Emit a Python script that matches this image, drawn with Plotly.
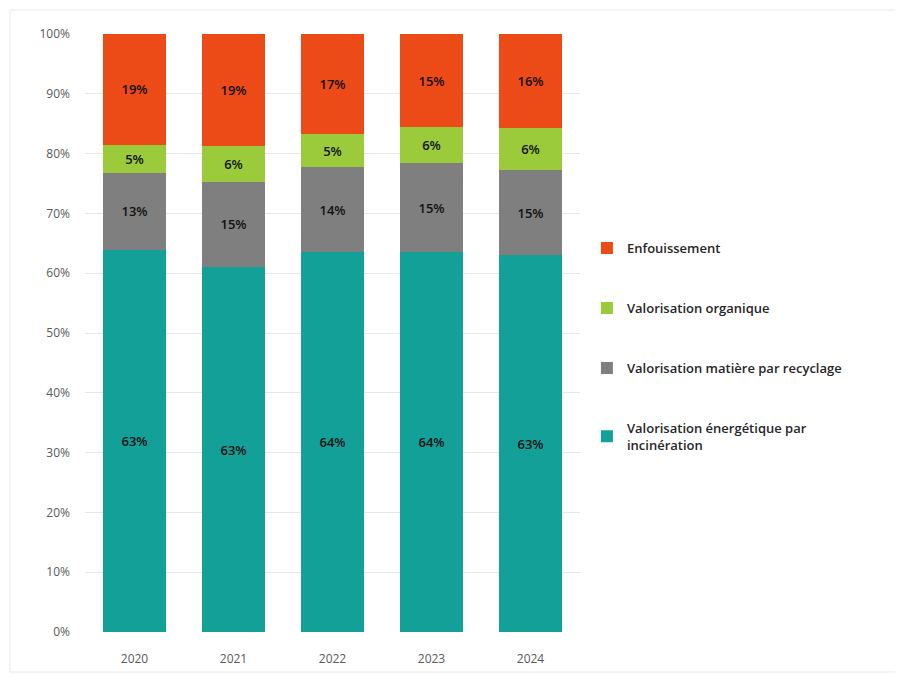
import plotly.graph_objects as go

years = ["2020", "2021", "2022", "2023", "2024"]

incineration = [63.9, 61.0, 63.5, 63.5, 63.0]
recyclage = [12.9, 14.3, 14.3, 14.9, 14.3]
organique = [4.7, 6.0, 5.4, 6.0, 6.9]
enfouissement = [18.5, 18.7, 16.8, 15.6, 15.8]

lbl_incineration = ["63%", "63%", "64%", "64%", "63%"]
lbl_recyclage = ["13%", "15%", "14%", "15%", "15%"]
lbl_organique = ["5%", "6%", "5%", "6%", "6%"]
lbl_enfouissement = ["19%", "19%", "17%", "15%", "16%"]

series = [
    ("Valorisation énergétique par<br>incinération", incineration, lbl_incineration, "#12A098"),
    ("Valorisation matière par recyclage", recyclage, lbl_recyclage, "#7F7F7F"),
    ("Valorisation organique", organique, lbl_organique, "#9BCB3B"),
    ("Enfouissement", enfouissement, lbl_enfouissement, "#EC4A17"),
]

fig = go.Figure()
for i, (name, vals, lbls, col) in enumerate(series):
    fig.add_trace(go.Bar(
        x=years, y=vals, name=name, marker_color=col, marker_line_width=0,
        text=lbls, textposition="inside", insidetextanchor="middle",
        textfont=dict(color="#111111", size=13, family="Open Sans", weight=600),
        legendgroup=str(i), legendrank=10 - i,
    ))

fig.update_layout(
    barmode="stack",
    bargap=0.36,
    width=903, height=675,
    margin=dict(l=77, r=331, t=26, b=51),
    plot_bgcolor="white", paper_bgcolor="white",
    font=dict(family="Open Sans", color="#595959", size=12),
    uniformtext=dict(mode="show", minsize=12),
    legend=dict(
        x=1.014, y=0.667, xanchor="left", yanchor="top",
        traceorder="grouped", tracegroupgap=40,
        font=dict(size=13, color="#262626", family="Open Sans", weight=600),
        itemwidth=30,
    ),
    xaxis=dict(showline=False, ticks="", ticklabelstandoff=18,
               tickfont=dict(size=12, color="#595959")),
    yaxis=dict(range=[0, 100], dtick=10, ticksuffix="%", showgrid=True,
               gridcolor="#E6E6E6", zeroline=False, ticklabelstandoff=14,
               tickfont=dict(size=12, color="#595959")),
    shapes=[dict(type="rect", xref="paper", yref="paper",
                 x0=-0.1515, x1=1.663, y0=-0.0669, y1=1.040,
                 line=dict(color="#E8E8E8", width=1))],
)

fig.write_html("out.html")
